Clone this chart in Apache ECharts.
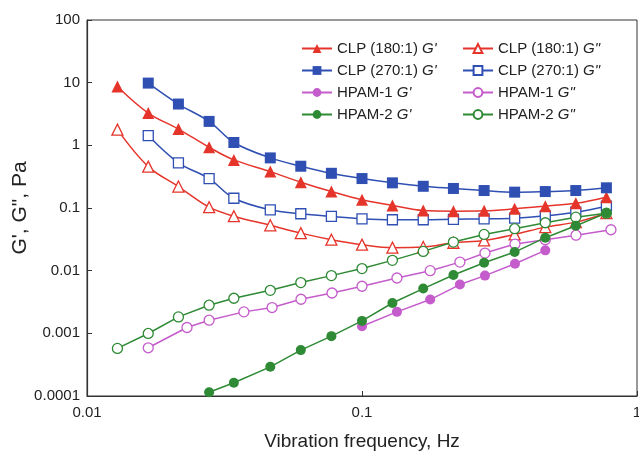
<!DOCTYPE html>
<html><head><meta charset="utf-8">
<script src="https://cdn.jsdelivr.net/npm/echarts@6/dist/echarts.min.js"></script>
<style>html,body{margin:0;padding:0;background:#fff}#c{width:639px;height:454px}</style>
</head><body><div id="c"></div>
<script>
var freq = [0.0129, 0.0167, 0.0215, 0.0278, 0.0342, 0.0464, 0.0599, 0.0774, 0.1, 0.129, 0.167, 0.215, 0.278, 0.359, 0.464, 0.599, 0.774];
var clp180G1 = [8.7, 3.27, 1.82, 0.93, 0.585, 0.381, 0.258, 0.183, 0.135, 0.11, 0.091, 0.089, 0.09, 0.097, 0.107, 0.119, 0.149];
var clp180G2 = [1.78, 0.458, 0.22, 0.103, 0.074, 0.053, 0.0397, 0.0312, 0.026, 0.0233, 0.0238, 0.0279, 0.0304, 0.0379, 0.0495, 0.0595, 0.0827];
var clp270G1 = [null, 9.84, 4.56, 2.41, 1.11, 0.63, 0.464, 0.358, 0.295, 0.252, 0.222, 0.205, 0.19, 0.179, 0.183, 0.19, 0.21];
var clp270G2 = [null, 1.43, 0.525, 0.295, 0.143, 0.0935, 0.081, 0.0733, 0.0673, 0.0649, 0.0649, 0.066, 0.067, 0.0689, 0.0751, 0.0858, 0.107];
var hpam2G1 = [null, null, null, 0.000115, 0.000163, 0.000292, 0.00054, 0.000902, 0.00158, 0.00305, 0.00518, 0.00853, 0.0134, 0.0198, 0.0336, 0.0521, 0.083];
var hpam2G2 = [0.000574, 0.000995, 0.00183, 0.00281, 0.00363, 0.00486, 0.00646, 0.00834, 0.0108, 0.0146, 0.0203, 0.0286, 0.0379, 0.0467, 0.0582, 0.0714, 0.0827];
var hpam1Freq = [0.0167, 0.0231, 0.0278, 0.0372, 0.0471, 0.06, 0.0778, 0.1, 0.134, 0.177, 0.227, 0.28, 0.36, 0.464, 0.6, 0.804];
var hpam1G1 = [null, null, null, null, null, null, null, 0.0013, 0.0022, 0.00346, 0.006, 0.00834, 0.0129, 0.0211, null, null];
var hpam1G2 = [0.000588, 0.00124, 0.00162, 0.0022, 0.00258, 0.0035, 0.0044, 0.00564, 0.00764, 0.01, 0.0137, 0.0191, 0.0266, 0.0312, 0.0368, 0.045];
var xTickLabels = ['0.01', '0.1', '1'];
var yTickLabels = ['0.0001', '0.001', '0.01', '0.1', '1', '10', '100'];
var seriesNames = ["CLP (180:1) G'", "CLP (180:1) G\"", "CLP (270:1) G'", "CLP (270:1) G\"", "HPAM-1 G'", "HPAM-1 G\"", "HPAM-2 G'", "HPAM-2 G\""];

var RED = '#e5352b', BLUE = '#2f4fb2', PINK = '#c45ccb', GREEN = '#2f8a35';
function pairs(xs, ys) {
  var out = [];
  for (var i = 0; i < ys.length; i++) if (ys[i] != null) out.push([xs[i], ys[i]]);
  return out;
}
function mk(name, xs, ys, color, symbol, filled, size, smooth) {
  return {
    name: name, type: 'line', data: pairs(xs, ys), smooth: smooth ? 0.35 : false,
    symbol: symbol, symbolSize: size,
    lineStyle: { color: color, width: 1.5 },
    itemStyle: filled ? { color: color } : { color: '#fff', borderColor: color, borderWidth: 1.3 },
    z: filled ? 3 : 2,
    animation: false
  };
}
var series = [
  mk(seriesNames[0], freq, clp180G1, RED, 'triangle', true, 12, true),
  mk(seriesNames[1], freq, clp180G2, RED, 'triangle', false, 11, true),
  mk(seriesNames[2], freq, clp270G1, BLUE, 'rect', true, 11, true),
  mk(seriesNames[3], freq, clp270G2, BLUE, 'rect', false, 10, true),
  mk(seriesNames[4], hpam1Freq, hpam1G1, PINK, 'circle', true, 10, false),
  mk(seriesNames[5], hpam1Freq, hpam1G2, PINK, 'circle', false, 10, false),
  mk(seriesNames[6], freq, hpam2G1, GREEN, 'circle', true, 10, false),
  mk(seriesNames[7], freq, hpam2G2, GREEN, 'circle', false, 10, false)
];
function legendFmt(name) {
  var m = name.match(/^(.*) G(['"])$/);
  return m[1] + ' {i|G' + m[2] + '}';
}
var legendText = { fontFamily: 'Liberation Sans', fontSize: 15, color: '#222', rich: { i: { fontStyle: 'italic', fontFamily: 'Liberation Sans', fontSize: 15, color: '#222' } } };
function logLabel(list, base) {
  return function (v) { var k = Math.round(Math.log10(v)) - base; return list[k] || ''; };
}
var chart = echarts.init(document.getElementById('c'), null, { renderer: 'canvas' });
chart.setOption({
  animation: false,
  backgroundColor: '#fff',
  grid: { left: 87, right: 2, top: 20, bottom: 58, show: true, borderColor: '#333', borderWidth: 1, outerBoundsMode: 'none', containLabel: false },
  legend: [
    { data: [seriesNames[0], seriesNames[2], seriesNames[4], seriesNames[6]], orient: 'vertical', left: 301, top: 41, padding: 0, itemWidth: 30, itemHeight: 11, itemGap: 7, formatter: legendFmt, textStyle: legendText, selectedMode: false },
    { data: [seriesNames[1], seriesNames[3], seriesNames[5], seriesNames[7]], orient: 'vertical', left: 462, top: 41, padding: 0, itemWidth: 30, itemHeight: 11, itemGap: 7, formatter: legendFmt, textStyle: legendText, selectedMode: false }
  ],
  xAxis: {
    type: 'log', logBase: 10, min: 0.01, max: 1,
    name: 'Vibration frequency, Hz', nameLocation: 'middle', nameGap: 36, nameMoveOverlap: false,
    nameTextStyle: { fontFamily: 'Liberation Sans', fontSize: 19, color: '#222' },
    axisLine: { lineStyle: { color: '#333', width: 1.2 } },
    axisTick: { inside: true, length: 5, lineStyle: { color: '#333' } },
    axisLabel: { fontFamily: 'Liberation Sans', fontSize: 15, color: '#222', margin: 9, formatter: logLabel(xTickLabels, -2), showMaxLabel: true, showMinLabel: true },
    splitLine: { show: false }, minorTick: { show: false }
  },
  yAxis: {
    type: 'log', logBase: 10, min: 0.0001, max: 100,
    name: "G', G\", Pa", nameLocation: 'middle', nameGap: 56, nameRotate: 90, nameMoveOverlap: false,
    nameTextStyle: { fontFamily: 'Liberation Sans', fontSize: 21, color: '#222' },
    axisLine: { lineStyle: { color: '#333', width: 1.2 } },
    axisTick: { inside: true, length: 5, lineStyle: { color: '#333' } },
    axisLabel: { fontFamily: 'Liberation Sans', fontSize: 15, color: '#222', margin: 7, formatter: logLabel(yTickLabels, -4), showMaxLabel: true, showMinLabel: true },
    splitLine: { show: false }, minorTick: { show: false }
  },
  series: series
});
</script></body></html>
